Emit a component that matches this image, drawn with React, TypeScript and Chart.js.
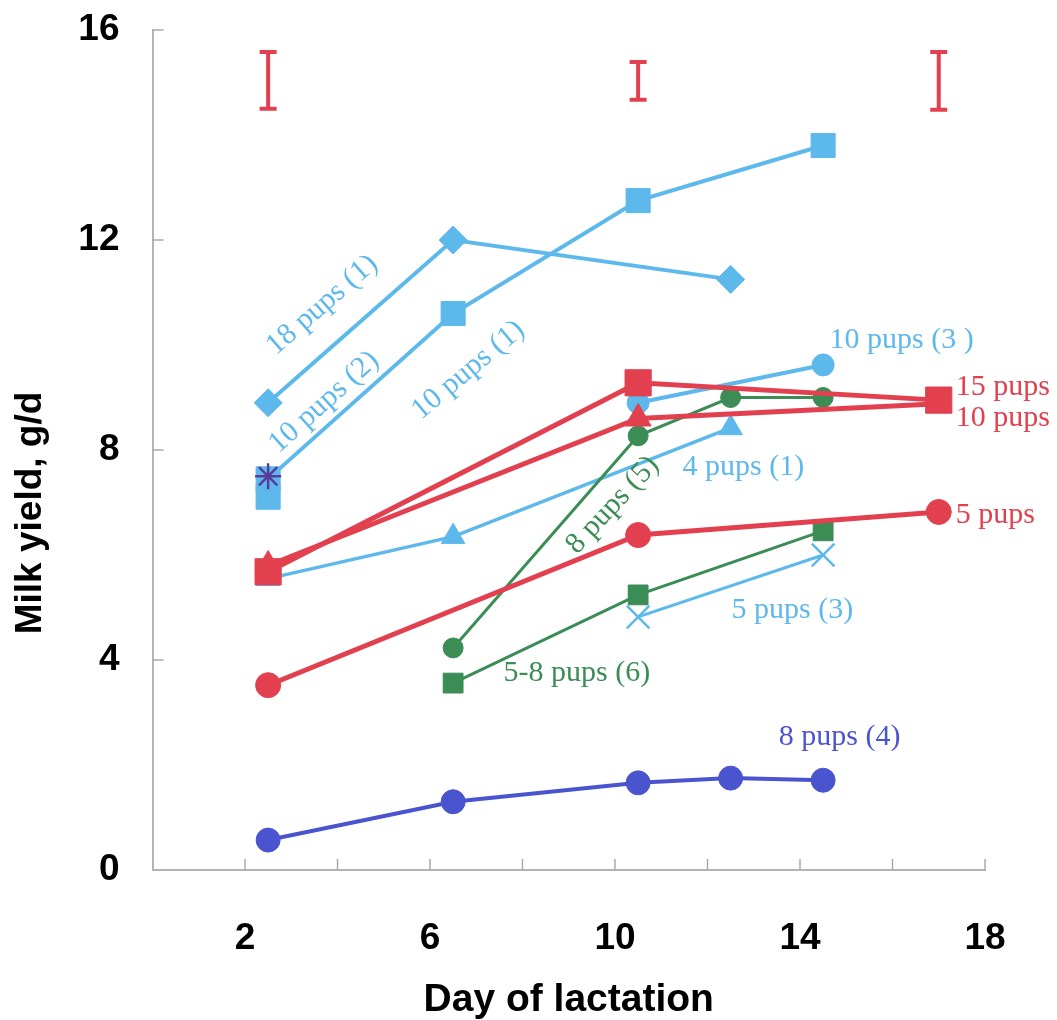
import React, { useEffect, useRef } from "react";
import { Chart, registerables } from "chart.js";

Chart.register(...registerables);

// ---- data (day of lactation, milk yield g/d) ----
const pups18Days = [2.5, 6.5, 12.5];
const pups18Yield = [8.9, 12.0, 11.25];

const pups10aDays = [2.5, 6.5, 10.5, 14.5];
const pups10aYield = [7.45, 10.6, 12.75, 13.8];

const pups10extraDays = [2.5];
const pups10extraYield = [7.1];

const starDays = [2.5];
const starYield = [7.5];

const pups10bDays = [10.5, 14.5];
const pups10bYield = [8.9, 9.62];

const pups4Days = [2.5, 6.5, 12.5];
const pups4Yield = [5.55, 6.35, 8.42];

const pups5bDays = [10.5, 14.5];
const pups5bYield = [4.82, 6.0];

const green8Days = [6.5, 10.5, 12.5, 14.5];
const green8Yield = [4.23, 8.27, 9.0, 9.0];

const green58Days = [6.5, 10.5, 14.5];
const green58Yield = [3.56, 5.24, 6.46];

const red15Days = [2.5, 10.5, 17];
const red15Yield = [5.68, 9.28, 8.95];

const red10Days = [2.5, 10.5, 17];
const red10Yield = [5.8, 8.6, 8.88];

const red5Days = [2.5, 10.5, 17];
const red5Yield = [3.52, 6.38, 6.82];

const blue8Days = [2.5, 6.5, 10.5, 12.5, 14.5];
const blue8Yield = [0.57, 1.3, 1.66, 1.75, 1.71];

const errDays = [2.5, 10.5, 17];
const errLow = [14.5, 14.67, 14.48];
const errHigh = [15.58, 15.39, 15.58];

const xTickLabels = ["2", "6", "10", "14", "18"];
const yTitle = "Milk yield, g/d";
const xTitle = "Day of lactation";

const LIGHT = "#5db8ec";
const RED = "#e2404f";
const GREEN = "#3b8c55";
const DBLUE = "#4b54cf";
const STAR = "#5a3c9e";

// labels: text, anchor in data space, colour, angle (deg)
const labelTexts = ["18 pups (1)", "10 pups (2)", "10 pups (1)", "8 pups (5)", "10 pups (3 )", "15 pups", "10 pups", "4 pups (1)", "5 pups", "5 pups (3)", "5-8 pups (6)", "8 pups (4)"];
const labelX = [3.67, 3.71, 6.83, 9.95, 14.64, 17.37, 17.37, 11.46, 17.37, 12.52, 7.59, 13.54];
const labelY = [10.76, 8.91, 9.52, 6.95, 10.1, 9.2, 8.61, 7.68, 6.76, 4.95, 3.75, 2.53];
const labelColors = [LIGHT, LIGHT, LIGHT, GREEN, LIGHT, RED, RED, LIGHT, RED, LIGHT, GREEN, DBLUE];
const labelAngles = [-41, -42, -40, -47, 0, 0, 0, 0, 0, 0, 0, 0];

const pts = (xs: number[], ys: number[]) => xs.map((x, i) => ({ x, y: ys[i] }));

const line = (label: string, xs: number[], ys: number[], color: string, style: any, radius: number, width: number, order: number) => ({
  label,
  data: pts(xs, ys),
  borderColor: color,
  backgroundColor: color,
  borderWidth: width,
  pointStyle: style,
  pointRadius: radius,
  pointBackgroundColor: color,
  pointBorderColor: color,
  pointBorderWidth: style === "crossRot" || style === "star" ? 2.5 : 1,
  showLine: true,
  order,
});

const annotationPlugin = {
  id: "annot",
  afterDatasetsDraw(chart: any) {
    const { ctx, scales } = chart;
    const xs = scales.x;
    const ys = scales.y;
    ctx.save();
    // inward ticks
    ctx.strokeStyle = "#a9a9b3";
    ctx.lineWidth = 1.5;
    const y0 = ys.getPixelForValue(0);
    for (let v = 2; v <= 18; v += 2) {
      const px = xs.getPixelForValue(v);
      ctx.beginPath();
      ctx.moveTo(px, y0);
      ctx.lineTo(px, y0 - 11);
      ctx.stroke();
    }
    const x0 = xs.getPixelForValue(0);
    for (let v = 4; v <= 16; v += 4) {
      const py = ys.getPixelForValue(v);
      ctx.beginPath();
      ctx.moveTo(x0, py);
      ctx.lineTo(x0 + 11, py);
      ctx.stroke();
    }
    // y axis title (sits lower than centre in the original)
    ctx.save();
    ctx.font = 'bold 37px "Liberation Sans", Arial, sans-serif';
    ctx.fillStyle = "#000";
    ctx.textAlign = "center";
    ctx.textBaseline = "middle";
    ctx.translate(31, ys.getPixelForValue(6.8));
    ctx.rotate(-Math.PI / 2);
    ctx.fillText(yTitle, 0, 0);
    ctx.restore();
    // text labels
    ctx.font = '30px "Liberation Serif", "DejaVu Serif", serif';
    ctx.textBaseline = "middle";
    labelTexts.forEach((t, i) => {
      const px = xs.getPixelForValue(labelX[i]);
      const py = ys.getPixelForValue(labelY[i]);
      ctx.fillStyle = labelColors[i];
      if (labelAngles[i] !== 0) {
        ctx.save();
        ctx.translate(px, py);
        ctx.rotate((labelAngles[i] * Math.PI) / 180);
        ctx.textAlign = "center";
        ctx.fillText(t, 0, 0);
        ctx.restore();
      } else {
        ctx.textAlign = "left";
        ctx.fillText(t, px, py);
      }
    });
    ctx.restore();
  },
};

export default function App() {
  const ref = useRef<HTMLCanvasElement | null>(null);

  useEffect(() => {
    if (!ref.current) return;
    const errSets = errDays.map((d, i) => ({
      label: "err" + i,
      data: [
        { x: d, y: errLow[i] },
        { x: d, y: errHigh[i] },
      ],
      borderColor: RED,
      backgroundColor: RED,
      borderWidth: 4,
      pointStyle: "line",
      pointRadius: 8.5,
      pointBorderColor: RED,
      pointBorderWidth: 4,
      showLine: true,
      order: 0,
    }));

    const chart = new Chart(ref.current, {
      type: "scatter",
      data: {
        datasets: [
          ...errSets,
          line("5 pups", red5Days, red5Yield, RED, "circle", 12.5, 5, 1),
          line("10 pups", red10Days, red10Yield, RED, "triangle", 15, 5, 1),
          line("15 pups", red15Days, red15Yield, RED, "rect", 18.5, 5, 1),
          line("8 pups (4)", blue8Days, blue8Yield, DBLUE, "circle", 12, 4, 2),
          line("8 pups (5)", green8Days, green8Yield, GREEN, "circle", 10, 3, 3),
          line("5-8 pups (6)", green58Days, green58Yield, GREEN, "rect", 14, 3, 3),
          line("star", starDays, starYield, STAR, "star", 13, 2.5, 4),
          line("18 pups (1)", pups18Days, pups18Yield, LIGHT, "rectRot", 14, 4, 5),
          line("10 pups (2)/(1)", pups10aDays, pups10aYield, LIGHT, "rect", 17, 4, 5),
          line("10 pups extra", pups10extraDays, pups10extraYield, LIGHT, "rect", 17, 4, 5),
          line("10 pups (3)", pups10bDays, pups10bYield, LIGHT, "circle", 11, 4, 5),
          line("4 pups (1)", pups4Days, pups4Yield, LIGHT, "triangle", 13.5, 3.5, 5),
          line("5 pups (3)", pups5bDays, pups5bYield, LIGHT, "crossRot", 16, 3, 5),
        ] as any,
      },
      options: {
        animation: false,
        responsive: false,
        maintainAspectRatio: false,
        layout: { padding: { top: 30, right: 72, left: 0, bottom: 0 } },
        plugins: {
          legend: { display: false },
          tooltip: { enabled: false },
        },
        scales: {
          x: {
            type: "linear",
            min: 0,
            max: 18,
            afterFit: (s: any) => {
              s.height = 150;
              s.paddingLeft = 0;
              s.paddingRight = 0;
            },
            grid: { display: true, drawOnChartArea: false, drawTicks: false },
            border: { display: true, color: "#b3b3bb", width: 2 },
            ticks: {
              stepSize: 2,
              padding: 47,
              color: "#000",
              font: { family: '"Liberation Sans", Arial, sans-serif', size: 37, weight: "bold" },
              maxRotation: 0,
              autoSkip: false,
              callback: (v: any) => {
                const s = String(v);
                return xTickLabels.includes(s) ? s : "";
              },
            },
            title: {
              display: true,
              text: xTitle,
              color: "#000",
              font: { family: '"Liberation Sans", Arial, sans-serif', size: 39, weight: "bold", lineHeight: 1 },
              padding: { top: 0, bottom: 0 },
            },
          },
          y: {
            type: "linear",
            min: 0,
            max: 16,
            afterFit: (s: any) => {
              s.width = 152.5;
              s.paddingTop = 0;
              s.paddingBottom = 0;
            },
            grid: { display: true, drawOnChartArea: false, drawTicks: false },
            border: { display: true, color: "#b3b3bb", width: 2 },
            ticks: {
              stepSize: 4,
              padding: 33,
              color: "#000",
              font: { family: '"Liberation Sans", Arial, sans-serif', size: 37, weight: "bold" },
            },
            title: { display: false },
          },
        },
      } as any,
      plugins: [annotationPlugin],
    });
    return () => chart.destroy();
  }, []);

  return (
    <div style={{ position: "fixed", left: 0, top: 0, width: 1057, height: 1020, background: "#fff" }}>
      <canvas ref={ref} width={1057} height={1020} style={{ width: 1057, height: 1020 }} />
    </div>
  );
}
